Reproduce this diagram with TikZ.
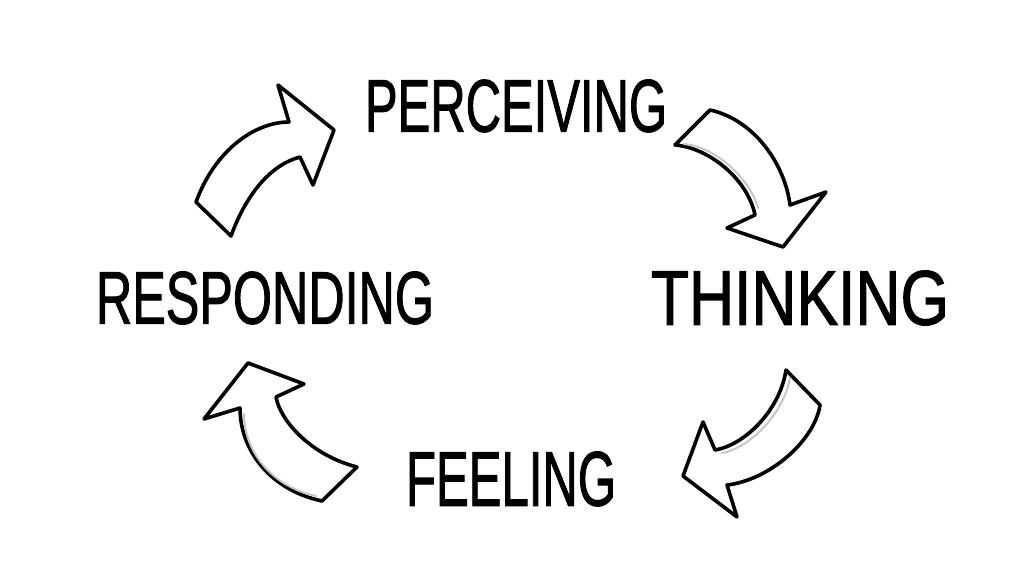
\documentclass[tikz,border=0pt]{standalone}
\usepackage{fontspec}
\setmainfont{Liberation Sans}
\newfontfamily\handfont{Liberation Sans}[FakeBold=1.6]
\begin{document}
\begin{tikzpicture}[x=1pt,y=-1pt,
  arrowshape/.style={draw=black,fill=white,line width=3.6pt,line join=round,line cap=round},
  shadowline/.style={draw=black!22,line width=2pt,line cap=round},
  word/.style={inner sep=0pt,text=black,font=\handfont}]
\useasboundingbox[fill=white] (0,0) rectangle (1024,585);

% arrow Responding -> Perceiving
\path[arrowshape] (196,202) -- (231,236)
  .. controls (246,195) and (270,165) .. (300,157)
  -- (313,185) -- (334,130) -- (278,85) -- (289,122)
  .. controls (255,122) and (215,150) .. (196,202) -- cycle;
% arrow Perceiving -> Thinking
\path[arrowshape] (710,110) -- (675,145)
  .. controls (710,148) and (748,180) .. (755,215)
  -- (727,228) -- (783,247) -- (826,192) -- (790,205)
  .. controls (785,165) and (755,120) .. (710,110) -- cycle;
\path[shadowline] (684,144) .. controls (714,146) and (750,178) .. (758,208);
% arrow Thinking -> Feeling
\path[arrowshape] (786,370) -- (820,405)
  .. controls (815,440) and (770,480) .. (727,485)
  -- (737,517) -- (683,476) -- (703,422) -- (715,450)
  .. controls (745,445) and (780,410) .. (786,370) -- cycle;
\path[shadowline] (722,453) .. controls (750,448) and (784,413) .. (790,378);
% arrow Feeling -> Responding
\path[arrowshape] (357,467) -- (322,501)
  .. controls (270,490) and (240,450) .. (240,408)
  -- (204,419) -- (248,363) -- (304,384) -- (276,397)
  .. controls (280,420) and (310,455) .. (357,467) -- cycle;
\path[shadowline] (316,496) .. controls (270,486) and (244,450) .. (244,414);

\node[word] (perceiving) at (516,106) {\resizebox{302pt}{52pt}{PERCEIVING}};
\node[word] (responding) at (265,298) {\resizebox{338pt}{52pt}{RESPONDING}};
\node[word] (thinking) at (800,298) {\resizebox{298pt}{54pt}{THINKING}};
\node[word] (feeling) at (511,479) {\resizebox{210pt}{54pt}{FEELING}};
\end{tikzpicture}
\end{document}
